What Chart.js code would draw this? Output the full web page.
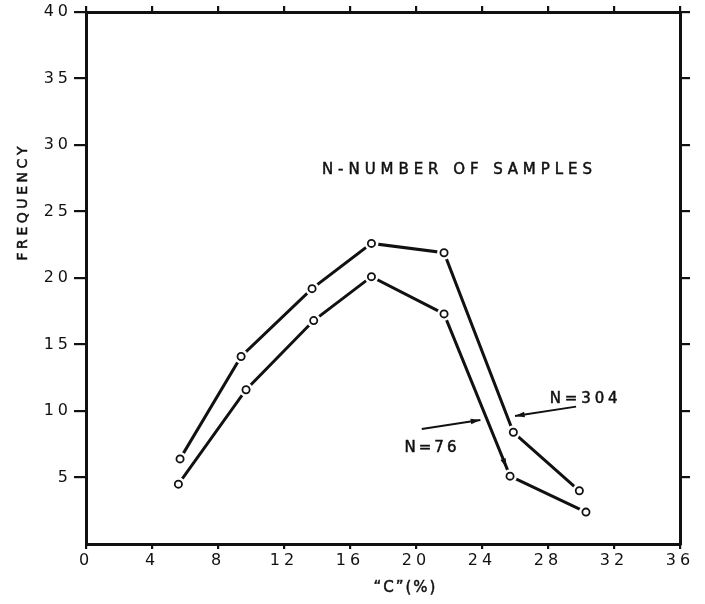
<!DOCTYPE html>
<html>
<head>
<meta charset="utf-8">
<script src="https://cdn.jsdelivr.net/npm/chart.js@4.4.1/dist/chart.umd.min.js"></script>
<style>
html, body { margin: 0; padding: 0; background: #fff; }
#wrap { position: relative; width: 705px; height: 604px; }
</style>
</head>
<body>
<div id="wrap"><canvas id="freqChart"></canvas></div>
<script>
// values
const carbonN304 = [5.7, 9.4, 13.7, 17.3, 21.7, 25.9, 29.9];
const freqN304 = [6.4, 14.1, 19.2, 22.6, 21.9, 8.4, 4.0];
const carbonN76 = [5.6, 9.7, 13.8, 17.3, 21.7, 25.7, 30.3];
const freqN76 = [4.5, 11.6, 16.8, 20.1, 17.3, 5.1, 2.4];
const xTickValues = [0, 4, 8, 12, 16, 20, 24, 28, 32, 36];
const yTickValues = [5, 10, 15, 20, 25, 30, 35, 40];

const INK = "#111";
const FONT = "DejaVu Sans";

function toPoints(xs, ys) {
    return xs.map((x, i) => ({ x: x, y: ys[i] }));
}

// draws text letter by letter so it spans a given width
function spacedText(ctx, text, x, y, width) {
    const chars = text.split("");
    const widths = chars.map(c => ctx.measureText(c).width);
    const natural = widths.reduce((a, b) => a + b, 0);
    const gap = chars.length > 1 ? (width - natural) / (chars.length - 1) : 0;
    let cx = x;
    ctx.textAlign = "left";
    chars.forEach((c, i) => {
        ctx.fillText(c, cx, y);
        ctx.strokeText(c, cx, y);
        cx += widths[i] + gap;
    });
}

function arrow(ctx, x1, y1, x2, y2) {
    const ang = Math.atan2(y2 - y1, x2 - x1);
    ctx.beginPath();
    ctx.moveTo(x1, y1);
    ctx.lineTo(x2, y2);
    ctx.stroke();
    ctx.beginPath();
    ctx.moveTo(x2, y2);
    ctx.lineTo(x2 - 10 * Math.cos(ang - 0.28), y2 - 10 * Math.sin(ang - 0.28));
    ctx.lineTo(x2 - 10 * Math.cos(ang + 0.28), y2 - 10 * Math.sin(ang + 0.28));
    ctx.closePath();
    ctx.fill();
}

// open circles with a small gap where the line meets them
const markerPlugin = {
    id: "markers",
    beforeDraw(chart) {
        chart.ctx.letterSpacing = "4px";
    },
    afterDatasetsDraw(chart) {
        const ctx = chart.ctx;
        ctx.save();
        chart.data.datasets.forEach((ds, di) => {
            chart.getDatasetMeta(di).data.forEach(pt => {
                ctx.fillStyle = "#fff";
                ctx.beginPath();
                ctx.arc(pt.x, pt.y, 7, 0, Math.PI * 2);
                ctx.fill();
                ctx.strokeStyle = INK;
                ctx.lineWidth = 1.8;
                ctx.beginPath();
                ctx.arc(pt.x, pt.y, 3.6, 0, Math.PI * 2);
                ctx.stroke();
            });
        });
        ctx.restore();
    }
};

const labelPlugin = {
    id: "labels",
    afterDraw(chart) {
        const ctx = chart.ctx;
        const xs = chart.scales.x;
        const ys = chart.scales.y;
        const px = v => xs.getPixelForValue(v);
        const py = v => ys.getPixelForValue(v);
        ctx.save();
        ctx.letterSpacing = "0px";
        ctx.fillStyle = INK;
        ctx.strokeStyle = INK;
        ctx.textBaseline = "middle";
        ctx.lineWidth = 0.5;

        ctx.font = "15px '" + FONT + "'";
        spacedText(ctx, "N-NUMBER OF SAMPLES", px(14.3), py(28.1), 270);
        spacedText(ctx, "N=304", px(28.1), py(10.9), 68);
        spacedText(ctx, "N=76", px(19.3), py(7.2), 52);

        const xt = "\u201CC\u201D(%)";
        spacedText(ctx, xt, px(19.3) - 31, py(-3.3), 62);

        ctx.save();
        ctx.translate(px(-3.8), py(25.6));
        ctx.rotate(-Math.PI / 2);
        ctx.font = "14px '" + FONT + "'";
        spacedText(ctx, "FREQUENCY", -57, 0, 114);
        ctx.restore();

        ctx.lineWidth = 1.9;
        arrow(ctx, px(29.7), py(10.33), px(26.0), py(9.62));
        arrow(ctx, px(20.35), py(8.65), px(23.9), py(9.32));

        // arrowhead at the end of the N=76 descending segment
        const m = chart.getDatasetMeta(1).data;
        const a = m[4], b = m[5];
        const len = Math.hypot(b.x - a.x, b.y - a.y);
        const ux = (b.x - a.x) / len, uy = (b.y - a.y) / len;
        const tx = b.x - ux * 9, ty = b.y - uy * 9;
        arrow(ctx, tx - ux * 12, ty - uy * 12, tx, ty);
        ctx.restore();
    }
};

const ctx = document.getElementById("freqChart").getContext("2d");

const gridOpts = function (len) {
    return { drawOnChartArea: false, drawTicks: true, tickLength: len, color: INK, lineWidth: 2.2 };
};
const borderOpts = { display: true, color: INK, width: 3 };

const freqChart = new Chart(ctx, {
    type: "scatter",
    data: {
        datasets: [{
            label: "N=304",
            data: toPoints(carbonN304, freqN304),
            showLine: true,
            borderColor: INK,
            borderWidth: 3,
            pointRadius: 0,
        }, {
            label: "N=76",
            data: toPoints(carbonN76, freqN76),
            showLine: true,
            borderColor: INK,
            borderWidth: 3,
            pointRadius: 0,
        }],
    },
    options: {
        responsive: true,
        maintainAspectRatio: false,
        animation: false,
        layout: { padding: 0 },
        plugins: { legend: { display: false }, tooltip: { enabled: false } },
        scales: {
            x: {
                type: "linear", position: "bottom", min: 0, max: 36,
                afterBuildTicks: s => { s.ticks = xTickValues.map(v => ({ value: v })); },
                afterFit: s => { s.height = 60; },
                ticks: { color: INK, font: { family: FONT, size: 16 }, padding: 2, maxRotation: 0, autoSkip: false },
                grid: gridOpts(5),
                border: borderOpts,
            },
            x2: {
                type: "linear", position: "top", min: 0, max: 36,
                afterBuildTicks: s => { s.ticks = xTickValues.map(v => ({ value: v })); },
                afterFit: s => { s.height = 12; },
                ticks: { display: false },
                grid: gridOpts(6),
                border: borderOpts,
            },
            y: {
                type: "linear", position: "left", min: 0, max: 40,
                afterBuildTicks: s => { s.ticks = yTickValues.map(v => ({ value: v })); },
                afterFit: s => { s.width = 86; },
                ticks: { color: INK, font: { family: FONT, size: 16 }, padding: 2, autoSkip: false },
                grid: gridOpts(12),
                border: borderOpts,
            },
            y2: {
                type: "linear", position: "right", min: 0, max: 40,
                afterBuildTicks: s => { s.ticks = yTickValues.map(v => ({ value: v })); },
                afterFit: s => { s.width = 25; },
                ticks: { display: false },
                grid: gridOpts(10),
                border: borderOpts,
            },
        },
    },
    plugins: [markerPlugin, labelPlugin],
});
</script>
</body>
</html>
